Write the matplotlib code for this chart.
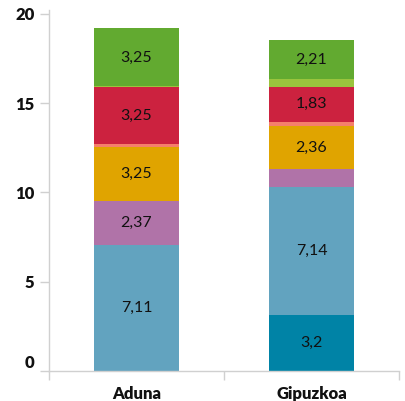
import matplotlib
matplotlib.use("Agg")
import matplotlib.pyplot as plt
import matplotlib.transforms as mtransforms
import numpy as np

categories = ["Aduna", "Gipuzkoa"]
series_names = ["s1", "s2", "s3", "s4", "s5", "s6", "s7", "s8"]
series_colors = ["#0083A6", "#62A3BF", "#B073A8", "#E0A400", "#F57F6B", "#CC223F", "#9AC43D", "#62AA30"]
# segment heights per series (bottom to top)
aduna_values = [0.0, 7.08, 2.44, 3.05, 0.15, 3.16, 0.06, 3.25]
gipuzkoa_values = [3.16, 7.17, 0.99, 2.38, 0.26, 1.95, 0.43, 2.20]
# data labels shown on segments ('' = none)
aduna_labels = ["", "7,11", "2,37", "3,25", "", "3,25", "", "3,25"]
gipuzkoa_labels = ["3,2", "7,14", "", "2,36", "", "1,83", "", "2,21"]
y_ticks = [0, 5, 10, 15, 20]

values = np.array([aduna_values, gipuzkoa_values])
labels = [aduna_labels, gipuzkoa_labels]

plt.rcParams['font.family'] = ['Lato', 'DejaVu Sans']

W, H = 406, 401
fig = plt.figure(figsize=(W / 100, H / 100), dpi=100)
ax = fig.add_axes([49 / W, (H - 371) / H, (399 - 49) / W, (371 - 10) / H])

x = np.arange(len(categories))
bottoms = np.zeros(len(categories))
for si in range(values.shape[1]):
    h = values[:, si]
    ax.bar(x, h, bottom=bottoms, width=0.49, color=series_colors[si], linewidth=0, zorder=2)
    for ci in range(len(categories)):
        t = labels[ci][si]
        if t:
            ax.text(x[ci], bottoms[ci] + h[ci] / 2, t, ha="center", va="center",
                    fontsize=11.5, color="#111111", zorder=3)
    bottoms = bottoms + h

ax.set_xlim(-0.5, len(categories) - 0.5)
ax.set_ylim(0, 20.22)

for s in ["top", "right"]:
    ax.spines[s].set_visible(False)
for s in ["left", "bottom"]:
    ax.spines[s].set_color("#d0d0d0")
    ax.spines[s].set_linewidth(1.0)

ax.set_yticks(y_ticks)
ax.set_yticklabels([str(v) for v in y_ticks], fontsize=12, fontweight="heavy", color="#111111")
ax.tick_params(axis="y", length=6.5, width=1.0, color="#d0d0d0", pad=4)

# category boundary ticks (minor) and category labels (major, no mark)
ax.set_xticks(x)
ax.set_xticklabels(categories, fontsize=12, fontweight="heavy", color="#111111")
ax.tick_params(axis="x", which="major", length=0, pad=11)
ax.set_xticks(np.arange(-0.5, len(categories), 1.0), minor=True)
ax.tick_params(axis="x", which="minor", length=6.5, width=1.0, color="#d0d0d0")

# the "0" label sits slightly above its tick
lab0 = ax.get_yticklabels()[0]
lab0.set_transform(lab0.get_transform() + mtransforms.ScaledTranslation(0, 9 / 100, fig.dpi_scale_trans))

fig.savefig("out.png", dpi=100)
